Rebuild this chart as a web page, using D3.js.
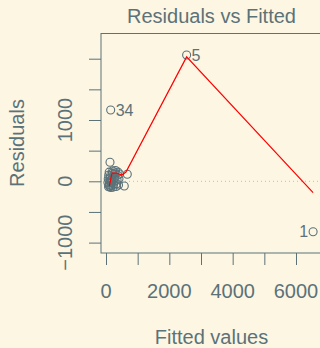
<!DOCTYPE html>
<html>
<head>
<meta charset="utf-8">
<script src="https://cdn.jsdelivr.net/npm/d3@7"></script>
<style>
  html, body { margin: 0; padding: 0; background: #fdf6e3; }
  svg { display: block; font-family: "Liberation Sans", Arial, sans-serif; }
</style>
</head>
<body>
<div id="chart"></div>
<script>
const obsId = [1, 5, 34, 2, 3, 4, 6, 7, 8, 9, 10, 11, 12, 13, 14, 15, 16, 17, 18, 19, 20,
    21, 22, 23, 24, 25, 26, 27, 28, 29, 30, 31, 32, 33, 35, 36, 37, 38, 39, 40];
const fitted = [6540, 2546, 148, 126, 577, 672, 80, 95, 110, 120, 130, 140, 150, 165, 175, 190,
    200, 210, 225, 240, 255, 270, 285, 300, 320, 335, 350, 365, 380, 395, 410, 430,
    60, 70, 85, 100, 115, 135, 160, 260];
const resid = [-822, 2060, 1163, 310, -77, 114, -90, -60, -30, 10, 50, 90, -100, -70, -20, 30,
    130, 170, -95, -50, 0, 60, 140, 175, -85, -40, 20, 100, 150, -60, 40, 120,
    -20, 40, 100, 150, -80, -5, 20, 110];
const labelled = [1, 5, 34];

// smoother (red) through the points
const smoothFitted = [104, 189, 315, 505, 630, 2546, 6540];
const smoothResid = [-77, 135, 135, 103, 152, 2030, -186];

const xTicks = [0, 1000, 2000, 3000, 4000, 5000, 6000, 7000];
const xTickLabels = [0, 2000, 4000, 6000];
const yTicks = [-1000, -500, 0, 500, 1000, 1500, 2000];
const yTickLabels = [-1000, 0, 1000];

const width = 320;
const height = 348;
const ink = '#5b7279';
const box = { left: 101, top: 33.5, right: 340, bottom: 253 };

const svg = d3.select('#chart')
    .append('svg')
    .attr('width', width)
    .attr('height', height);

svg.append('rect')
    .attr('width', width)
    .attr('height', height)
    .attr('fill', '#fdf6e3');

const xScale = d3.scaleLinear().domain([0, 6000]).range([106, 296]);
const yScale = d3.scaleLinear().domain([0, 2000]).range([181.3, 58.7]);

// zero reference line
svg.append('line')
    .attr('x1', box.left).attr('x2', box.right)
    .attr('y1', yScale(0)).attr('y2', yScale(0))
    .attr('stroke', '#bebebe')
    .attr('stroke-width', 1)
    .attr('stroke-dasharray', '1,3');

// axes
const xAxis = svg.append('g')
    .attr('transform', `translate(0, ${box.bottom})`)
    .call(d3.axisBottom(xScale).tickValues(xTicks).tickFormat('').tickSize(12).tickSizeOuter(0));
const yAxis = svg.append('g')
    .attr('transform', `translate(${box.left}, 0)`)
    .call(d3.axisLeft(yScale).tickValues(yTicks).tickFormat('').tickSize(12).tickSizeOuter(0));
[xAxis, yAxis].forEach((g) => {
    g.select('.domain').remove();
    g.selectAll('line').attr('stroke', ink).attr('stroke-width', 1);
});

svg.append('g')
    .selectAll('text')
    .data(xTickLabels)
    .join('text')
    .attr('x', (d) => xScale(d))
    .attr('y', 297.5)
    .attr('text-anchor', 'middle')
    .attr('font-size', 20)
    .attr('fill', ink)
    .text((d) => String(d));

svg.append('g')
    .selectAll('text')
    .data(yTickLabels)
    .join('text')
    .attr('transform', (d) => `translate(71.5, ${yScale(d)}) rotate(-90)`)
    .attr('text-anchor', 'middle')
    .attr('font-size', 20)
    .attr('fill', ink)
    .text((d) => (d < 0 ? '\u2212' + Math.abs(d) : String(d)));

// plot box
svg.append('rect')
    .attr('x', box.left)
    .attr('y', box.top)
    .attr('width', box.right - box.left)
    .attr('height', box.bottom - box.top)
    .attr('fill', 'none')
    .attr('stroke', ink)
    .attr('stroke-width', 1);

// points
const points = obsId.map((id, i) => ({ id, f: fitted[i], r: resid[i] }));
svg.append('g')
    .selectAll('circle')
    .data(points)
    .join('circle')
    .attr('cx', (d) => xScale(d.f))
    .attr('cy', (d) => yScale(d.r))
    .attr('r', 4)
    .attr('fill', 'none')
    .attr('stroke', ink)
    .attr('stroke-width', 1.1);

// smoother
const smooth = smoothFitted.map((f, i) => [f, smoothResid[i]]);
svg.append('path')
    .datum(smooth)
    .attr('d', d3.line().x((d) => xScale(d[0])).y((d) => yScale(d[1])))
    .attr('fill', 'none')
    .attr('stroke', '#ff0000')
    .attr('stroke-width', 1.2);

// labels for the extreme points
const midF = (d3.min(fitted) + d3.max(fitted)) / 2;
svg.append('g')
    .selectAll('text')
    .data(points.filter((d) => labelled.includes(d.id)))
    .join('text')
    .attr('x', (d) => xScale(d.f) + (d.f > midF ? -5 : 5))
    .attr('y', (d) => yScale(d.r) + 5.5)
    .attr('text-anchor', (d) => (d.f > midF ? 'end' : 'start'))
    .attr('font-size', 16)
    .attr('fill', ink)
    .text((d) => d.id);

// titles
svg.append('text')
    .attr('x', 211.5).attr('y', 22.5)
    .attr('text-anchor', 'middle')
    .attr('font-size', 20)
    .attr('fill', ink)
    .text('Residuals vs Fitted');

svg.append('text')
    .attr('x', 211.5).attr('y', 344)
    .attr('text-anchor', 'middle')
    .attr('font-size', 20)
    .attr('fill', ink)
    .text('Fitted values');

svg.append('text')
    .attr('transform', `translate(24, 143) rotate(-90)`)
    .attr('text-anchor', 'middle')
    .attr('font-size', 20)
    .attr('fill', ink)
    .text('Residuals');
</script>
</body>
</html>
